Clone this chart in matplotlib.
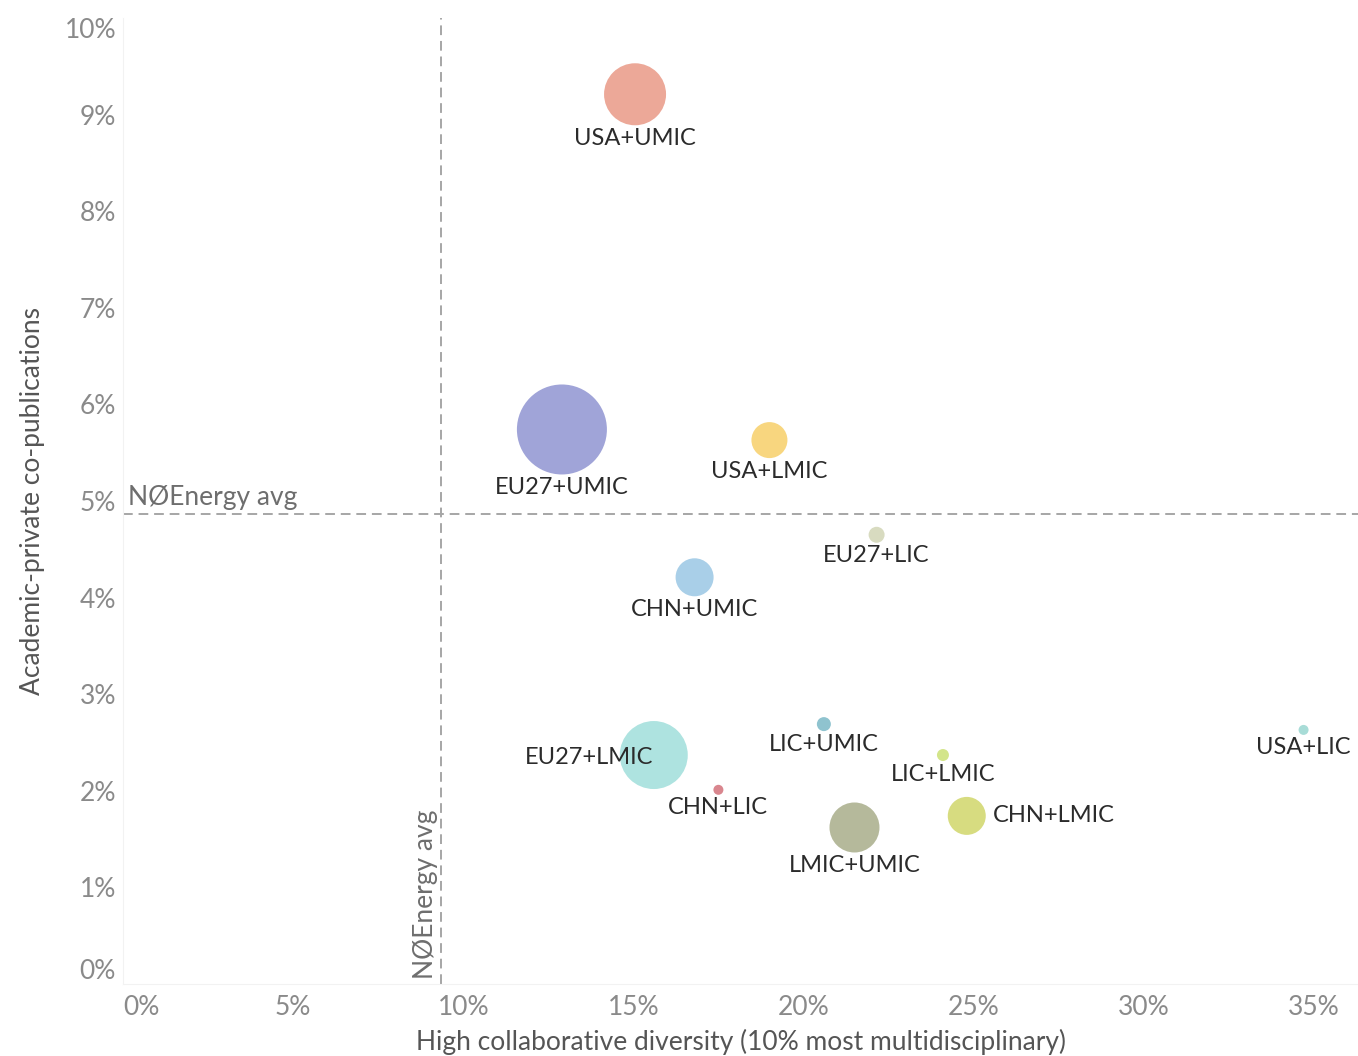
import matplotlib.pyplot as plt

plt.rcParams['font.family'] = ['Lato', 'DejaVu Sans']

labels = ['USA+UMIC', 'EU27+UMIC', 'USA+LMIC', 'EU27+LIC', 'CHN+UMIC', 'EU27+LMIC',
          'LIC+UMIC', 'CHN+LIC', 'LMIC+UMIC', 'LIC+LMIC', 'CHN+LMIC', 'USA+LIC']
diversity = [15.05, 12.9, 19.0, 22.15, 16.8, 15.6, 20.6, 17.5, 21.5, 24.1, 24.8, 34.7]
copubs = [9.21, 5.74, 5.63, 4.65, 4.21, 2.37, 2.69, 2.01, 1.62, 2.37, 1.74, 2.63]
bubble_r = [31, 45, 18, 8, 19, 34, 7, 5, 25, 6, 19, 5]
colors = ['#eca898', '#a0a4d8', '#f8d67f', '#d8dbc0', '#a9cfe8', '#aee3e0',
          '#8fc3cf', '#d9868e', '#b5b99b', '#d3e58a', '#d7dc80', '#a8dcd7']
label_pos = ['below', 'below', 'below', 'below', 'below', 'left',
             'below', 'below', 'below', 'below', 'right', 'below']

avg_x = 9.35
avg_y = 4.86

xticks = [0, 5, 10, 15, 20, 25, 30, 35]
yticks = [0, 1, 2, 3, 4, 5, 6, 7, 8, 9, 10]

fig = plt.figure(figsize=(13.58, 10.56), dpi=100)
ax = fig.add_axes([0.0906, 0.0682, 0.9094, 0.9148])

px2pt = 72 / 100
sizes = [(2 * r * px2pt) ** 2 for r in bubble_r]
ax.scatter(diversity, copubs, s=sizes, c=colors, linewidths=0, zorder=3)

for lab, x, y, r, pos in zip(labels, diversity, copubs, bubble_r, label_pos):
    if pos == 'below':
        off, ha, va = (0, -(r + 13) * px2pt), 'center', 'center'
    elif pos == 'left':
        off, ha, va = (0, -2), 'right', 'center'
    else:
        off, ha, va = ((r + 7) * px2pt, 0), 'left', 'center'
    ax.annotate(lab, (x, y), xytext=off, textcoords='offset points',
                ha=ha, va=va, fontsize=17, color='#2b2b2b', zorder=4)

ax.axvline(avg_x, color='#a6a6a6', lw=1.4, ls=(0, (5, 3)), zorder=1)
ax.axhline(avg_y, color='#a6a6a6', lw=1.4, ls=(0, (5, 3)), zorder=1)
ax.text(0.15, avg_y + 0.05, 'NØEnergy avg', fontsize=19, color='#6e6e6e', ha='left', va='bottom')
ax.text(avg_x - 0.1, 0.05, 'NØEnergy avg', fontsize=19, color='#6e6e6e', ha='right', va='bottom',
        rotation=90)

ax.set_xlim(0, 36.3)
ax.set_ylim(0, 10)
ax.set_xticks(xticks)
ax.set_xticklabels([f'{t}%' for t in xticks])
ax.set_yticks(yticks)
ax.set_yticklabels([f'{t}%' for t in yticks])
ax.tick_params(length=0, labelsize=19, labelcolor='#8a8a8a')
ax.tick_params(axis='y', pad=5)
ax.tick_params(axis='x', pad=8)
ax.get_xticklabels()[0].set_ha('left')
ax.get_yticklabels()[0].set_va('bottom')
ax.get_yticklabels()[-1].set_va('top')

for s in ax.spines.values():
    s.set_visible(False)
ax.spines['left'].set_visible(True)
ax.spines['bottom'].set_visible(True)
ax.spines['left'].set_color('#f2f2f2')
ax.spines['bottom'].set_color('#f2f2f2')

ax.set_xlabel('High collaborative diversity (10% most multidisciplinary)', fontsize=19,
              color='#555555', labelpad=6)
ax.set_ylabel('Academic-private co-publications', fontsize=19, color='#555555', labelpad=14)

fig.savefig('out.png', dpi=100)
